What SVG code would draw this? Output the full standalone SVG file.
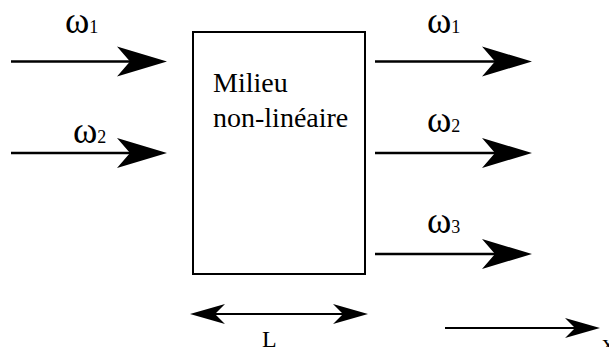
<svg xmlns="http://www.w3.org/2000/svg" width="609" height="347" viewBox="0 0 609 347">
<style>
.ln{stroke:#000;stroke-width:2.5;fill:none}
.thin{stroke:#000;stroke-width:2;fill:none}
</style>
<defs>
<path id="big" d="M0 0 L-50 -15 L-37 0 L-50 15 Z"/>
<path id="small" d="M0 0 L-35 -10 L-25 0 L-35 10 Z"/>
</defs>
<g id="box">
<rect x="193" y="32" width="172" height="242" fill="#fff" stroke="#000" stroke-width="2"/>
<text font-family="'Liberation Serif', 'Times New Roman', serif" font-size="28" x="213" y="92">Milieu</text>
<text font-family="'Liberation Serif', 'Times New Roman', serif" font-size="28" x="213" y="127">non-linéaire</text>
</g>
<g id="labels" font-family="'Liberation Serif', 'Times New Roman', serif">
<text x="65" y="33"><tspan font-size="37">ω</tspan><tspan font-size="18">1</tspan></text>
<text x="73" y="143"><tspan font-size="37">ω</tspan><tspan font-size="18">2</tspan></text>
<text x="427" y="33"><tspan font-size="37">ω</tspan><tspan font-size="18">1</tspan></text>
<text x="427" y="132"><tspan font-size="37">ω</tspan><tspan font-size="18">2</tspan></text>
<text x="427" y="233"><tspan font-size="37">ω</tspan><tspan font-size="18">3</tspan></text>
<text x="262" y="347" font-size="24">L</text>
<text x="602" y="351" font-size="24">x</text>
</g>
<g id="connectors">
<line class="ln" x1="11" y1="61.5" x2="135" y2="61.5"/><use href="#big" x="167" y="61.5"/>
<line class="ln" x1="11" y1="153" x2="135" y2="153"/><use href="#big" x="167" y="153"/>
<line class="ln" x1="375" y1="61.5" x2="500" y2="61.5"/><use href="#big" x="532" y="61.5"/>
<line class="ln" x1="375" y1="153" x2="500" y2="153"/><use href="#big" x="532" y="153"/>
<line class="ln" x1="375" y1="254" x2="500" y2="254"/><use href="#big" x="532" y="254"/>
<line class="thin" x1="200" y1="314" x2="358" y2="314"/>
<use href="#small" transform="translate(190 314) rotate(180)"/>
<use href="#small" x="368" y="314"/>
<line class="thin" x1="445" y1="328" x2="580" y2="328"/><use href="#small" x="600" y="328"/>
</g>
</svg>
